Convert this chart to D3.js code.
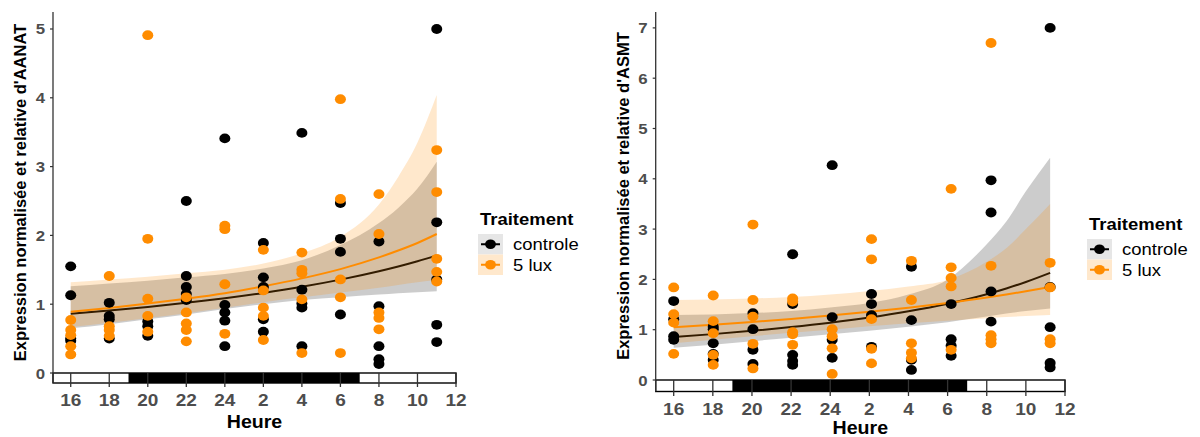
<!DOCTYPE html>
<html><head><meta charset="utf-8">
<script src="https://cdn.jsdelivr.net/npm/d3@7"></script>
<style>body{margin:0;background:#fff}svg{display:block;font-family:"Liberation Sans",Arial,Helvetica,sans-serif}</style>
</head><body><svg id="c" width="1200" height="437"></svg>
<script>
// ---------- data ----------
const tickHours = [16, 18, 20, 22, 24, 26, 28, 30, 32, 34, 36];
const tickLabels = ["16", "18", "20", "22", "24", "2", "4", "6", "8", "10", "12"];
const nightStart = 19, nightEnd = 31;
const seriesNames = ["controle", "5 lux"];
const legendTitle = "Traitement";
const xTitle = "Heure";

// AANAT panel
const aanatYTicks = [0, 1, 2, 3, 4, 5];
const aanatHours = [16, 18, 20, 22, 24, 26, 28, 30, 32, 35];
const aanatControle = [
  [1.55, 1.13, 0.50, 0.47], [1.02, 0.83, 0.78, 0.50], [0.75, 0.68, 0.54],
  [2.50, 1.41, 1.25, 1.15, 1.06], [3.41, 0.99, 0.88, 0.76, 0.39], [1.89, 1.39, 1.25, 0.78, 0.60],
  [3.49, 1.21, 1.01, 0.95, 0.39], [2.47, 1.95, 1.76, 0.85], [1.91, 0.97, 0.39, 0.20, 0.13],
  [5.00, 2.19, 1.36, 0.70, 0.45]];
const aanatLux = [
  [0.77, 0.625, 0.55, 0.39, 0.27], [1.41, 0.68, 0.625, 0.54], [4.91, 1.95, 1.08, 0.83, 0.60],
  [1.10, 0.88, 0.72, 0.625, 0.46], [2.14, 2.09, 1.29, 0.57], [1.79, 1.20, 0.95, 0.83, 0.48],
  [1.75, 1.50, 1.45, 1.07, 0.29], [3.98, 2.53, 1.36, 1.10, 0.29], [2.60, 2.02, 0.88, 0.80, 0.635],
  [3.24, 2.63, 1.66, 1.47, 1.33]];
const aanatFitHours = [16, 18, 20, 22, 24, 26, 28, 30, 32, 33, 34, 35];
const aanatFitControle = [0.86, 0.907, 0.96, 1.02, 1.087, 1.164, 1.253, 1.357, 1.479, 1.548, 1.624, 1.71];
const aanatLoControle  = [0.65, 0.71, 0.78, 0.85, 0.93, 1.00, 1.06, 1.10, 1.14, 1.16, 1.175, 1.19];
const aanatHiControle  = [1.26, 1.30, 1.34, 1.39, 1.44, 1.52, 1.64, 1.86, 2.18, 2.40, 2.68, 3.07];
const aanatFitLux = [0.89, 0.945, 1.01, 1.08, 1.16, 1.26, 1.375, 1.51, 1.68, 1.78, 1.89, 2.02];
const aanatLoLux  = [0.67, 0.73, 0.80, 0.87, 0.95, 1.03, 1.10, 1.17, 1.24, 1.28, 1.32, 1.35];
const aanatHiLux  = [1.32, 1.36, 1.40, 1.45, 1.50, 1.59, 1.74, 1.98, 2.45, 2.85, 3.35, 4.04];

// ASMT panel
const asmtYTicks = [0, 1, 2, 3, 4, 5, 6, 7];
const asmtHours = [16, 18.02, 20.05, 22.08, 24.1, 26.11, 28.15, 30.18, 32.22, 35.24];
const asmtControle = [
  [1.57, 1.21, 0.87, 0.80], [1.06, 1.01, 0.73, 0.52, 0.40], [1.33, 1.01, 0.60, 0.32],
  [2.50, 1.51, 0.50, 0.38, 0.30], [4.27, 1.25, 0.80, 0.44], [1.71, 1.51, 1.29, 0.66],
  [2.25, 1.19, 0.40, 0.20], [1.51, 0.81, 0.68, 0.48], [3.97, 3.33, 1.76, 1.16],
  [7.00, 1.85, 1.05, 0.34, 0.25]];
const asmtLux = [
  [1.84, 1.31, 1.14, 0.52], [1.68, 1.17, 0.93, 0.50, 0.30], [3.09, 1.59, 1.26, 0.72, 0.23],
  [1.62, 1.56, 0.95, 0.91, 0.70], [1.01, 0.87, 0.63, 0.12], [2.80, 2.40, 1.21, 0.62, 0.33],
  [2.37, 1.59, 0.73, 0.54, 0.43], [3.80, 2.24, 2.03, 1.86, 0.60], [6.70, 2.27, 0.89, 0.81, 0.73],
  [2.33, 1.84, 0.81, 0.73]];
const asmtFitHours = [16, 18, 20, 22, 24, 26, 28, 30, 32, 33, 34, 35.24];
const asmtFitControle = [0.855, 0.912, 0.977, 1.052, 1.139, 1.242, 1.366, 1.517, 1.706, 1.82, 1.949, 2.13];
const asmtLoControle  = [0.64, 0.70, 0.77, 0.84, 0.91, 0.98, 1.06, 1.15, 1.26, 1.32, 1.37, 1.42];
const asmtHiControle  = [1.29, 1.30, 1.33, 1.37, 1.44, 1.53, 1.70, 2.00, 2.70, 3.15, 3.75, 4.42];
const asmtFitLux = [1.05, 1.10, 1.155, 1.214, 1.28, 1.355, 1.438, 1.533, 1.64, 1.70, 1.764, 1.85];
const asmtLoLux  = [0.73, 0.80, 0.87, 0.94, 1.00, 1.07, 1.13, 1.18, 1.23, 1.25, 1.27, 1.29];
const asmtHiLux  = [1.59, 1.60, 1.62, 1.65, 1.70, 1.77, 1.86, 1.99, 2.35, 2.62, 3.00, 3.50];

// ---------- layout / style ----------
const COL = {ctrl: "#000000", lux: "#ff8c00", axis: "#333333", tick: "#4d4d4d"};
const SX = 1.12; // horizontal text stretch seen in reference
const panels = [
  {hours: aanatHours, ctrl: aanatControle, lux: aanatLux, fitH: aanatFitHours,
   fit: [aanatFitControle, aanatFitLux], lo: [aanatLoControle, aanatLoLux], hi: [aanatHiControle, aanatHiLux],
   yTicks: aanatYTicks, yMax: 5.247, title: "Expression normalisée et relative d'AANAT",
   left: 53, right: 456, top: 12, y0: 373, barH: 10, tickLen: 14, tickLabY: 406, xTitleY: 428,
   yTitleX: 20, legX: 478, legY: 219},
  {hours: asmtHours, ctrl: asmtControle, lux: asmtLux, fitH: asmtFitHours,
   fit: [asmtFitControle, asmtFitLux], lo: [asmtLoControle, asmtLoLux], hi: [asmtHiControle, asmtHiLux],
   yTicks: asmtYTicks, yMax: 7.316, title: "Expression normalisée et relative d'ASMT",
   left: 655.7, right: 1065, top: 12, y0: 380, barH: 11.5, tickLen: 16, tickLabY: 415, xTitleY: 433.5,
   yTitleX: 623, legX: 1087, legY: 224}
];
const svg = d3.select("#c");

function stext(g, x, y, s, size, opts = {}) {
  return g.append("text")
    .attr("transform", `translate(${x},${y}) scale(${SX},1)`)
    .attr("text-anchor", opts.anchor || "start")
    .attr("font-size", size)
    .attr("font-weight", opts.bold ? "bold" : "normal")
    .attr("fill", opts.fill || "#000")
    .text(s);
}

panels.forEach(p => {
  const g = svg.append("g");
  // x expansion: axis starts 0.92 h before the first tick (16 h)
  const x = d3.scaleLinear().domain([16 - 0.92, 36]).range([p.left, p.right]);
  const y = d3.scaleLinear().domain([0, p.yMax]).range([p.y0, p.top]);

  const fillC = ["rgba(153,153,153,0.5)", "rgba(255,140,0,0.2)"];
  const lineC = [COL.ctrl, COL.lux];
  [0, 1].forEach(s => {
    const rows = p.fitH.map((h, i) => ({h, f: p.fit[s][i], lo: p.lo[s][i], hi: p.hi[s][i]}));
    g.append("path").datum(rows)
      .attr("d", d3.area().curve(d3.curveMonotoneX).x(d => x(d.h)).y0(d => y(d.lo)).y1(d => y(d.hi)))
      .attr("fill", fillC[s]).attr("stroke", "none");
    g.append("path").datum(rows)
      .attr("d", d3.line().curve(d3.curveMonotoneX).x(d => x(d.h)).y(d => y(d.f)))
      .attr("fill", "none").attr("stroke", lineC[s]).attr("stroke-width", 2);
  });

  [[p.ctrl, COL.ctrl], [p.lux, COL.lux]].forEach(([vals, c]) => {
    const pts = [];
    vals.forEach((arr, i) => arr.forEach(v => pts.push({h: p.hours[i], v})));
    g.selectAll(null).data(pts).enter().append("ellipse")
      .attr("cx", d => x(d.h)).attr("cy", d => y(d.v))
      .attr("rx", 5.5).attr("ry", 4.9).attr("fill", c);
  });

  // day/night bar
  const bTop = p.y0, bBot = p.y0 + p.barH;
  g.append("rect").attr("x", p.left).attr("y", bTop).attr("width", p.right - p.left).attr("height", p.barH)
    .attr("fill", "#fff").attr("stroke", "#000").attr("stroke-width", 1.4);
  g.append("rect").attr("x", x(nightStart)).attr("y", bTop).attr("width", x(nightEnd) - x(nightStart)).attr("height", p.barH)
    .attr("fill", "#000");
  tickHours.forEach((h, i) => {
    g.append("line").attr("x1", x(h)).attr("x2", x(h)).attr("y1", bTop).attr("y2", bTop + p.tickLen)
      .attr("stroke", COL.axis).attr("stroke-width", 1.3);
    stext(g, x(h), p.tickLabY, tickLabels[i], 17, {anchor: "middle", bold: true, fill: COL.tick});
  });
  // y axis
  g.append("line").attr("x1", p.left).attr("x2", p.left).attr("y1", p.top).attr("y2", bBot)
    .attr("stroke", COL.axis).attr("stroke-width", 1.3);
  p.yTicks.forEach(t => {
    g.append("line").attr("x1", p.left - 3).attr("x2", p.left).attr("y1", y(t)).attr("y2", y(t))
      .attr("stroke", COL.axis).attr("stroke-width", 1.2);
    stext(g, p.left - 8, y(t) + 5.5, String(t), 15, {anchor: "end", bold: true, fill: COL.tick});
  });
  // titles
  stext(g, (p.left + p.right) / 2, p.xTitleY, xTitle, 17.5, {anchor: "middle", bold: true});
  g.append("text")
    .attr("transform", `translate(${p.yTitleX},${(p.top + p.y0) / 2}) rotate(-90)`)
    .attr("text-anchor", "middle").attr("dominant-baseline", "central")
    .attr("font-size", 16.5).attr("font-weight", "bold").text(p.title);

  // legend
  const lg = g.append("g");
  stext(lg, p.legX + 2, p.legY + 6, legendTitle, 16.5, {bold: true});
  const keyFill = ["#e6e6e6", "#ffe8cc"];
  seriesNames.forEach((nm, i) => {
    const ky = p.legY + 15 + i * 20.5;
    lg.append("rect").attr("x", p.legX).attr("y", ky).attr("width", 25).attr("height", 20.5).attr("fill", keyFill[i]);
    lg.append("line").attr("x1", p.legX + 3).attr("x2", p.legX + 22).attr("y1", ky + 10.25).attr("y2", ky + 10.25)
      .attr("stroke", lineC[i]).attr("stroke-width", 2);
    lg.append("ellipse").attr("cx", p.legX + 12.5).attr("cy", ky + 10.25).attr("rx", 5.4).attr("ry", 4.8).attr("fill", lineC[i]);
    stext(lg, p.legX + 35, ky + 16, nm, 16.5, {});
  });
});
</script></body></html>
